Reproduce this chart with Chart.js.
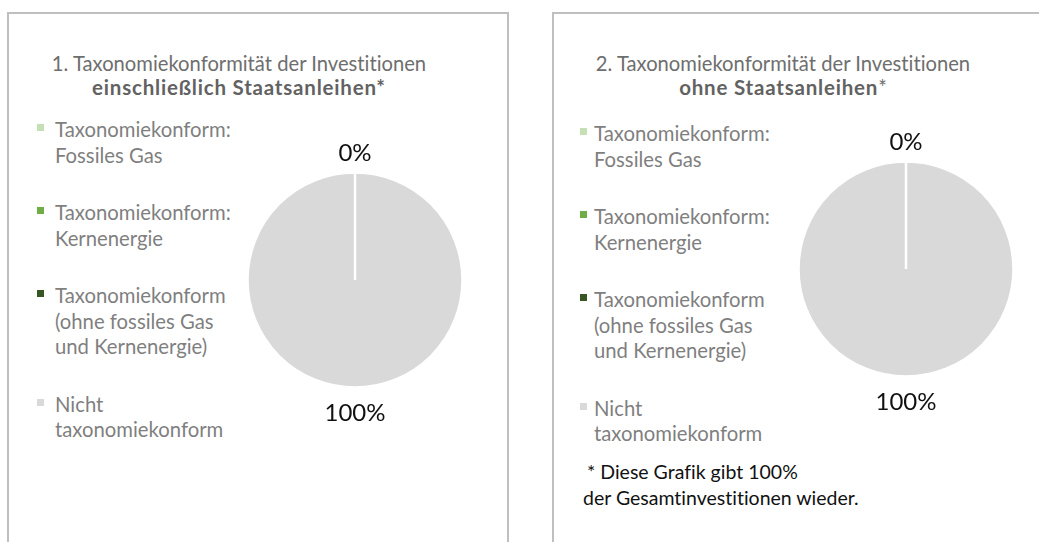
<!DOCTYPE html>
<html lang="de">
<head>
<meta charset="utf-8">
<script src="https://cdn.jsdelivr.net/npm/chart.js@4.4.1/dist/chart.umd.min.js"></script>
<style>
  html, body { margin:0; padding:0; width:1039px; height:542px; overflow:hidden; background:#fff; font-family: Lato, "Open Sans", sans-serif; font-variant-ligatures: none; font-feature-settings: "liga" 0, "clig" 0; }
  .panel { position:absolute; top:12px; height:620px; border:2px solid #bfbfbf; border-bottom:none; box-sizing:border-box; }
  #panel1 { left:7px; width:502px; }
  #panel2 { left:552px; width:560px; }
  .title { position:absolute; width:420px; text-align:center; color:#6e6e6e; font-size:20.2px; line-height:24px; white-space:nowrap; }
  .title b { color:#626262; letter-spacing:0.8px; font-size:20.5px; }
  #title1 { left:29px; top:51px; }
  #title2 { left:573px; top:51px; }
  .legend { position:absolute; color:#7f7f7f; font-size:20.3px; line-height:25.5px; }
  .legend .item { position:relative; padding-left:20px; margin-bottom:32px; white-space:nowrap; }
  .legend .sw { position:absolute; top:7px; width:7px; height:7px; }
  #legend1 { left:35px; top:117px; }
  #legend1 .sw { left:2px; }
  #legend2 { left:574px; top:121px; }
  #legend2 .sw { left:6px; }
  .pie { position:absolute; width:300px; height:300px; }
  #wrap1 { left:205px; top:130px; }
  #wrap2 { left:756px; top:119px; }
  #note { position:absolute; left:583px; top:459px; color:#111; font-size:19.5px; line-height:25.5px; white-space:nowrap; }
</style>
</head>
<body>
<div class="panel" id="panel1"></div>
<div class="panel" id="panel2"></div>
<div class="title" id="title1"></div>
<div class="title" id="title2"></div>
<div class="legend" id="legend1"></div>
<div class="legend" id="legend2"></div>
<div class="pie" id="wrap1"><canvas id="pie1" width="300" height="300"></canvas></div>
<div class="pie" id="wrap2"><canvas id="pie2" width="300" height="300"></canvas></div>
<div id="note"></div>
<script>
// ---- data ----
const categories = [
  ["Taxonomiekonform:", "Fossiles Gas"],
  ["Taxonomiekonform:", "Kernenergie"],
  ["Taxonomiekonform", "(ohne fossiles Gas", "und Kernenergie)"],
  ["Nicht", "taxonomiekonform"]
];
const sliceColors = ["#c5e0b4", "#70ad47", "#375623", "#d9d9d9"];
const valuesInclSovereign = [0, 0, 0, 100];
const valuesExclSovereign = [0, 0, 0, 100];
const title1Lines = ["1. Taxonomiekonformität der Investitionen", "einschließlich Staatsanleihen*"];
const title2Lines = ["2. Taxonomiekonformität der Investitionen", "ohne Staatsanleihen", "*"];
const footnoteLines = ["* Diese Grafik gibt 100%", "der Gesamtinvestitionen wieder."];

// ---- titles ----
document.getElementById('title1').innerHTML = title1Lines[0] + '<br><b>' + title1Lines[1] + '</b>';
document.getElementById('title2').innerHTML = title2Lines[0] + '<br><b>' + title2Lines[1] + '</b>' + title2Lines[2];

// ---- legends ----
function buildLegend(id) {
  const el = document.getElementById(id);
  categories.forEach((lines, i) => {
    const item = document.createElement('div');
    item.className = 'item';
    const sw = document.createElement('span');
    sw.className = 'sw';
    sw.style.background = sliceColors[i];
    item.appendChild(sw);
    lines.forEach((l, j) => {
      if (j) item.appendChild(document.createElement('br'));
      item.appendChild(document.createTextNode(l));
    });
    el.appendChild(item);
  });
}
buildLegend('legend1');
buildLegend('legend2');

// ---- footnote ----
document.getElementById('note').innerHTML =
  '<span style="padding-left:4px">' + footnoteLines[0] + '</span><br>' + footnoteLines[1];

// ---- percent labels plugin ----
const pctLabels = {
  id: 'pctLabels',
  afterDatasetsDraw(chart) {
    const ctx = chart.ctx;
    const meta = chart.getDatasetMeta(0);
    const data = chart.data.datasets[0].data;
    const seen = new Set();
    ctx.save();
    ctx.font = '24px Lato, "Open Sans", sans-serif';
    ctx.fillStyle = '#111';
    ctx.textAlign = 'center';
    ctx.textBaseline = 'middle';
    meta.data.forEach((arc, i) => {
      const p = arc.getProps(['x', 'y', 'startAngle', 'endAngle', 'outerRadius'], true);
      const mid = (p.startAngle + p.endAngle) / 2;
      const r = p.outerRadius + 22.5;
      const x = p.x + Math.cos(mid) * r;
      const y = p.y + Math.sin(mid) * r + 3.5;
      const text = data[i] + '%';
      const key = Math.round(x) + ',' + Math.round(y) + ',' + text;
      if (seen.has(key)) return;
      seen.add(key);
      ctx.fillText(text, x, y);
    });
    ctx.restore();
  }
};

function makePie(canvasId, values) {
  return new Chart(document.getElementById(canvasId), {
    type: 'pie',
    data: {
      labels: categories.map(c => c.join(' ')),
      datasets: [{
        data: values,
        backgroundColor: sliceColors,
        borderColor: '#ffffff',
        borderWidth: 2.5,
        hoverOffset: 0
      }]
    },
    options: {
      responsive: false,
      animation: false,
      events: [],
      radius: 107.5,
      layout: { padding: 0 },
      plugins: { legend: { display: false }, tooltip: { enabled: false }, title: { display: false } }
    },
    plugins: [pctLabels]
  });
}
makePie('pie1', valuesInclSovereign);
makePie('pie2', valuesExclSovereign);
</script>
</body>
</html>
